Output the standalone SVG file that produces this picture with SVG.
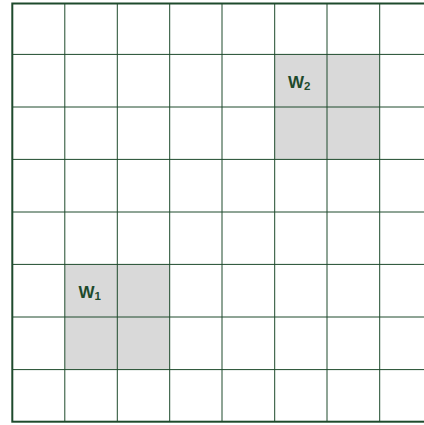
<svg xmlns="http://www.w3.org/2000/svg" width="424" height="425" viewBox="0 0 424 425">
<style>
.bg{fill:#ffffff}
.win{fill:#d9d9d9;stroke:none}
.grid line{stroke:#1e4a2c;stroke-width:1}
.border{fill:none;stroke:#1e4a2c;stroke-width:2}
.lbl{font-family:Arimo,"Liberation Sans",Arial,Helvetica,sans-serif;font-weight:bold;font-size:17px;fill:#1e4a2c}
.sub{font-size:11.5px}
</style>
<rect class="bg" x="0" y="0" width="424" height="425"/>
<g id="W1">
  <rect class="win" x="65" y="264.5" width="105" height="105"/>
  <text class="lbl" x="78.5" y="298" font-family="Liberation Sans, Arial, sans-serif">W<tspan class="sub" dy="2">1</tspan></text>
</g>
<g id="W2">
  <rect class="win" x="274.5" y="54.5" width="105" height="105"/>
  <text class="lbl" x="288" y="87.5" font-family="Liberation Sans, Arial, sans-serif">W<tspan class="sub" dy="2">2</tspan></text>
</g>
<g id="connectors" class="grid">
  <line x1="64.8" y1="3.5" x2="64.8" y2="421.7"/>
  <line x1="117.3" y1="3.5" x2="117.3" y2="421.7"/>
  <line x1="169.7" y1="3.5" x2="169.7" y2="421.7"/>
  <line x1="222" y1="3.5" x2="222" y2="421.7"/>
  <line x1="274.7" y1="3.5" x2="274.7" y2="421.7"/>
  <line x1="327" y1="3.5" x2="327" y2="421.7"/>
  <line x1="379.7" y1="3.5" x2="379.7" y2="421.7"/>
  <line x1="12.5" y1="54.4" x2="432" y2="54.4"/>
  <line x1="12.5" y1="107" x2="432" y2="107"/>
  <line x1="12.5" y1="159.4" x2="432" y2="159.4"/>
  <line x1="12.5" y1="212" x2="432" y2="212"/>
  <line x1="12.5" y1="264.4" x2="432" y2="264.4"/>
  <line x1="12.5" y1="317" x2="432" y2="317"/>
  <line x1="12.5" y1="369.6" x2="432" y2="369.6"/>
  <rect class="border" x="12.3" y="3.5" width="420" height="418.2"/>
</g>
</svg>
